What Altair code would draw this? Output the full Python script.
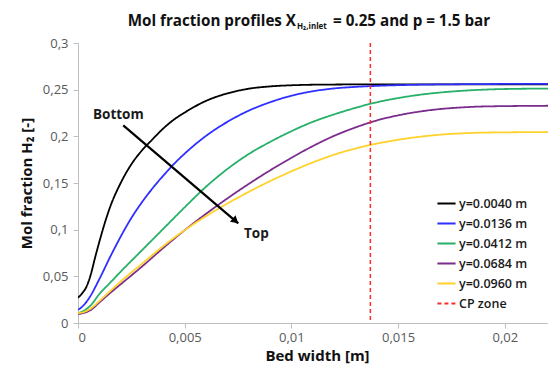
import altair as alt
import pandas as pd

# ---------------- data ----------------
series_labels = ["y=0.0040 m", "y=0.0136 m", "y=0.0412 m", "y=0.0684 m", "y=0.0960 m"]
cp_label = "CP zone"
series_colors = ["#000000", "#2f2fff", "#27b067", "#7b2d8e", "#ffd22b"]
cp_color = "#ff2a2a"

x_black = [0, 0.0002, 0.0004, 0.0006, 0.0008, 0.001, 0.0012, 0.0015, 0.002, 0.0025, 0.003,
           0.0035, 0.004, 0.0045, 0.005, 0.006, 0.007, 0.008, 0.009, 0.010, 0.011, 0.012,
           0.014, 0.0224]
y_black = [0.027, 0.032, 0.039, 0.052, 0.070, 0.087, 0.103, 0.124, 0.150, 0.170, 0.185,
           0.197, 0.2085, 0.218, 0.2255, 0.238, 0.246, 0.251, 0.2535, 0.2547, 0.2553, 0.2555,
           0.2557, 0.2557]

x_blue = [0, 0.0002, 0.0005, 0.001, 0.0015, 0.002, 0.0025, 0.003, 0.0035, 0.004, 0.0045,
          0.005, 0.0055, 0.006, 0.007, 0.008, 0.009, 0.010, 0.011, 0.012, 0.013, 0.014,
          0.016, 0.019, 0.0224]
y_blue = [0.0142, 0.0175, 0.026, 0.047, 0.0705, 0.0925, 0.1125, 0.1295, 0.1445, 0.158, 0.1705,
          0.1815, 0.1915, 0.2005, 0.2155, 0.2275, 0.2365, 0.2435, 0.2483, 0.2513, 0.2530, 0.2541,
          0.2553, 0.2560, 0.2563]

x_green = [0, 0.0003, 0.0006, 0.001, 0.0015, 0.002, 0.003, 0.004, 0.005, 0.006, 0.007,
           0.008, 0.009, 0.010, 0.011, 0.012, 0.013, 0.014, 0.015, 0.016, 0.017, 0.018,
           0.019, 0.020, 0.0224]
y_green = [0.0105, 0.0135, 0.019, 0.031, 0.043, 0.055, 0.078, 0.101, 0.124, 0.146, 0.165,
           0.181, 0.194, 0.2055, 0.2155, 0.2235, 0.2305, 0.2365, 0.241, 0.2445, 0.247, 0.2488,
           0.250, 0.2507, 0.2512]

x_purple = [0, 0.0003, 0.0006, 0.001, 0.0015, 0.002, 0.003, 0.004, 0.005, 0.006, 0.007,
            0.008, 0.009, 0.010, 0.011, 0.012, 0.013, 0.014, 0.015, 0.016, 0.017, 0.018,
            0.019, 0.0224]
y_purple = [0.0095, 0.011, 0.014, 0.022, 0.032, 0.0415, 0.0605, 0.0805, 0.0995, 0.117, 0.1335,
            0.149, 0.1635, 0.177, 0.1895, 0.2005, 0.2095, 0.217, 0.2225, 0.2265, 0.2293, 0.2310,
            0.2320, 0.2328]

x_yellow = [0, 0.0003, 0.0006, 0.001, 0.0015, 0.002, 0.003, 0.004, 0.005, 0.006, 0.007,
            0.008, 0.009, 0.010, 0.011, 0.012, 0.013, 0.014, 0.015, 0.016, 0.017, 0.018,
            0.019, 0.0224]
y_yellow = [0.0105, 0.012, 0.0155, 0.0235, 0.034, 0.0445, 0.0635, 0.0825, 0.0995, 0.1145, 0.128,
            0.1405, 0.152, 0.1625, 0.172, 0.1803, 0.1870, 0.1922, 0.1963, 0.1995, 0.2018, 0.2032,
            0.2040, 0.2046]

cp_x = [0.0137]

x_ticks = [0, 0.005, 0.01, 0.015, 0.02]
y_ticks = [0, 0.05, 0.1, 0.15, 0.2, 0.25, 0.3]

# annotation arrow (data coordinates)
arrow_x = [0.00212, 0.00751]
arrow_y = [0.2118, 0.1068]
arrow_head = (0.00738, 0.1094)
bottom_label = ("Bottom", 0.00189, 0.2225)
top_label = ("Top", 0.00836, 0.0957)

title_main = "Mol fraction profiles X"
title_sub = "H\u2082,inlet"
title_rest = "= 0.25 and p = 1.5 bar"

# ---------------- build tables ----------------
rows = []
for lab, xs, ys in zip(series_labels,
                       [x_black, x_blue, x_green, x_purple, x_yellow],
                       [y_black, y_blue, y_green, y_purple, y_yellow]):
    for xv, yv in zip(xs, ys):
        rows.append({"series": lab, "x": xv, "y": yv})
df = pd.DataFrame(rows)
cp_df = pd.DataFrame({"series": [cp_label], "x": cp_x})

all_labels = series_labels + [cp_label]
color_scale = alt.Scale(domain=all_labels, range=series_colors + [cp_color])
dash_scale = alt.Scale(domain=all_labels, range=[[1, 0]] * 5 + [[4, 3]])

FONT = "Open Sans"
legend = alt.Legend(orient="none", legendX=358, legendY=150, title=None,
                    symbolType="stroke", symbolSize=330, symbolStrokeWidth=2,
                    labelFont=FONT, labelFontSize=12.5, labelFontWeight=600,
                    labelColor="#1a1a1a", rowPadding=3, padding=0, labelOffset=2)

x_scale = alt.Scale(domain=[0, 0.0224], nice=False, zero=True)
y_scale = alt.Scale(domain=[0, 0.3], nice=False)
label_expr = "replace(format(datum.value, '~g'), '.', ',')"

x_enc = alt.X("x:Q", scale=x_scale,
              axis=alt.Axis(values=x_ticks, labelExpr=label_expr, title="Bed width [m]"))
y_enc = alt.Y("y:Q", scale=y_scale,
              axis=alt.Axis(values=y_ticks, labelExpr=label_expr, title="Mol fraction H\u2082 [-]"))

lines = alt.Chart(df).mark_line(strokeWidth=1.8, interpolate="monotone", clip=True).encode(
    x=x_enc, y=y_enc,
    color=alt.Color("series:N", scale=color_scale, legend=legend),
    strokeDash=alt.StrokeDash("series:N", scale=dash_scale, legend=legend),
)

cp_rule = alt.Chart(cp_df).mark_rule(strokeWidth=1.5).encode(
    x="x:Q",
    color=alt.Color("series:N", scale=color_scale, legend=legend),
    strokeDash=alt.StrokeDash("series:N", scale=dash_scale, legend=legend),
)

arrow_df = pd.DataFrame({"x": arrow_x, "y": arrow_y, "o": [0, 1]})
arrow_line = alt.Chart(arrow_df).mark_line(color="black", strokeWidth=2.2).encode(
    x="x:Q", y="y:Q", order="o:Q")
head_df = pd.DataFrame({"x": [arrow_head[0]], "y": [arrow_head[1]]})
arrow_tip = alt.Chart(head_df).mark_point(shape="triangle-up", filled=True, size=70,
                                          color="black", opacity=1, angle=131).encode(
    x="x:Q", y="y:Q")

lab_df = pd.DataFrame({"t": [bottom_label[0], top_label[0]],
                       "x": [bottom_label[1], top_label[1]],
                       "y": [bottom_label[2], top_label[2]]})
labels = alt.Chart(lab_df).mark_text(font=FONT, fontSize=13.5, fontWeight="bold",
                                     color="#1a1a1a").encode(x="x:Q", y="y:Q", text="t:N")

t1 = alt.Chart(pd.DataFrame({"t": [title_main]})).mark_text(
    align="right", baseline="alphabetic", font=FONT, fontSize=15.2, fontWeight="bold",
    color="#111111").encode(text="t:N", x=alt.value(218), y=alt.value(-17))
t2 = alt.Chart(pd.DataFrame({"t": [title_sub]})).mark_text(
    align="left", baseline="alphabetic", font=FONT, fontSize=8, fontWeight="bold",
    color="#111111").encode(text="t:N", x=alt.value(219), y=alt.value(-14))
t3 = alt.Chart(pd.DataFrame({"t": [title_rest]})).mark_text(
    align="left", baseline="alphabetic", font=FONT, fontSize=15.2, fontWeight="bold",
    color="#111111").encode(text="t:N", x=alt.value(255), y=alt.value(-17))

chart = alt.layer(lines, cp_rule, arrow_line, arrow_tip, labels, t1, t2, t3).properties(
    width=478, height=280,
    padding={"left": 70, "top": 35, "right": -8, "bottom": 43},
    autosize=alt.AutoSizeParams(type="none"),
).configure_view(stroke=None).configure_axis(
    grid=False, domainColor="#bfbfbf", tickColor="#bfbfbf", tickSize=5,
    labelFont=FONT, labelFontSize=13, labelColor="#595959",
    titleFont=FONT, titleFontSize=15, titleFontWeight="bold", titleColor="#111111",
).configure_axisX(labelPadding=3, titlePadding=4).configure_axisY(labelPadding=5, titlePadding=8)

chart.save("out.html", embed_options={"renderer": "svg", "actions": False})
